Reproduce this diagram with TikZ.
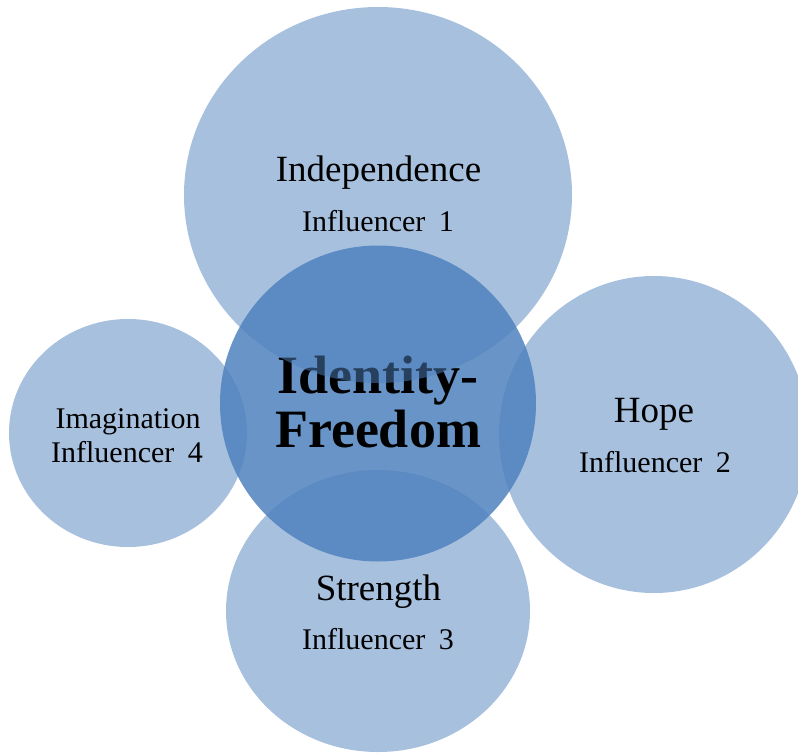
\documentclass[tikz,border=0pt]{standalone}
\usepackage{fontspec}
\setmainfont{Liberation Serif}
\definecolor{accent}{HTML}{4F81BD}
\tikzset{
  outerc/.style={fill=accent, fill opacity=0.5},
  innerc/.style={fill=accent, fill opacity=0.85},
  titletext/.style={anchor=base, inner sep=0pt, text=black, font=\fontsize{37}{37}\selectfont},
  subtext/.style={anchor=base, inner sep=0pt, text=black, font=\fontsize{30}{30}\selectfont},
  bigtext/.style={anchor=base, inner sep=0pt, text=black, font=\fontsize{54}{54}\selectfont\bfseries},
}
\newcommand{\infl}[1]{Influencer\hspace{0.45em}#1}
\begin{document}
\begin{tikzpicture}[x=1pt,y=-1pt]
\useasboundingbox (0,0) rectangle (798,753);
\clip (0,0) rectangle (798,753);
% central circle and its text
\fill[innerc] (378,403.5) circle [radius=158pt];
\node[bigtext] (id1) at (378,393) {Identity-};
\node[bigtext] (id2) at (378,447) {Freedom};
% outer circles
\fill[outerc] (378,195) ellipse [x radius=194pt, y radius=188pt];
\fill[outerc] (654,434.5) ellipse [x radius=155pt, y radius=158.5pt];
\fill[outerc] (378,611) ellipse [x radius=152pt, y radius=141pt];
\fill[outerc] (128,433) ellipse [x radius=119pt, y radius=114pt];
% outer texts
\node[titletext] (ind) at (378.5,181) {Independence};
\node[subtext]   (i1)  at (378,231) {\infl{1}};
\node[titletext] (hope) at (654,422) {Hope};
\node[subtext]   (i2)  at (655,472) {\infl{2}};
\node[titletext] (str) at (378.5,600) {Strength};
\node[subtext]   (i3)  at (378,649) {\infl{3}};
\node[subtext]   (img) at (128,428) {Imagination};
\node[subtext]   (i4)  at (127,462) {\infl{4}};
\end{tikzpicture}
\end{document}
